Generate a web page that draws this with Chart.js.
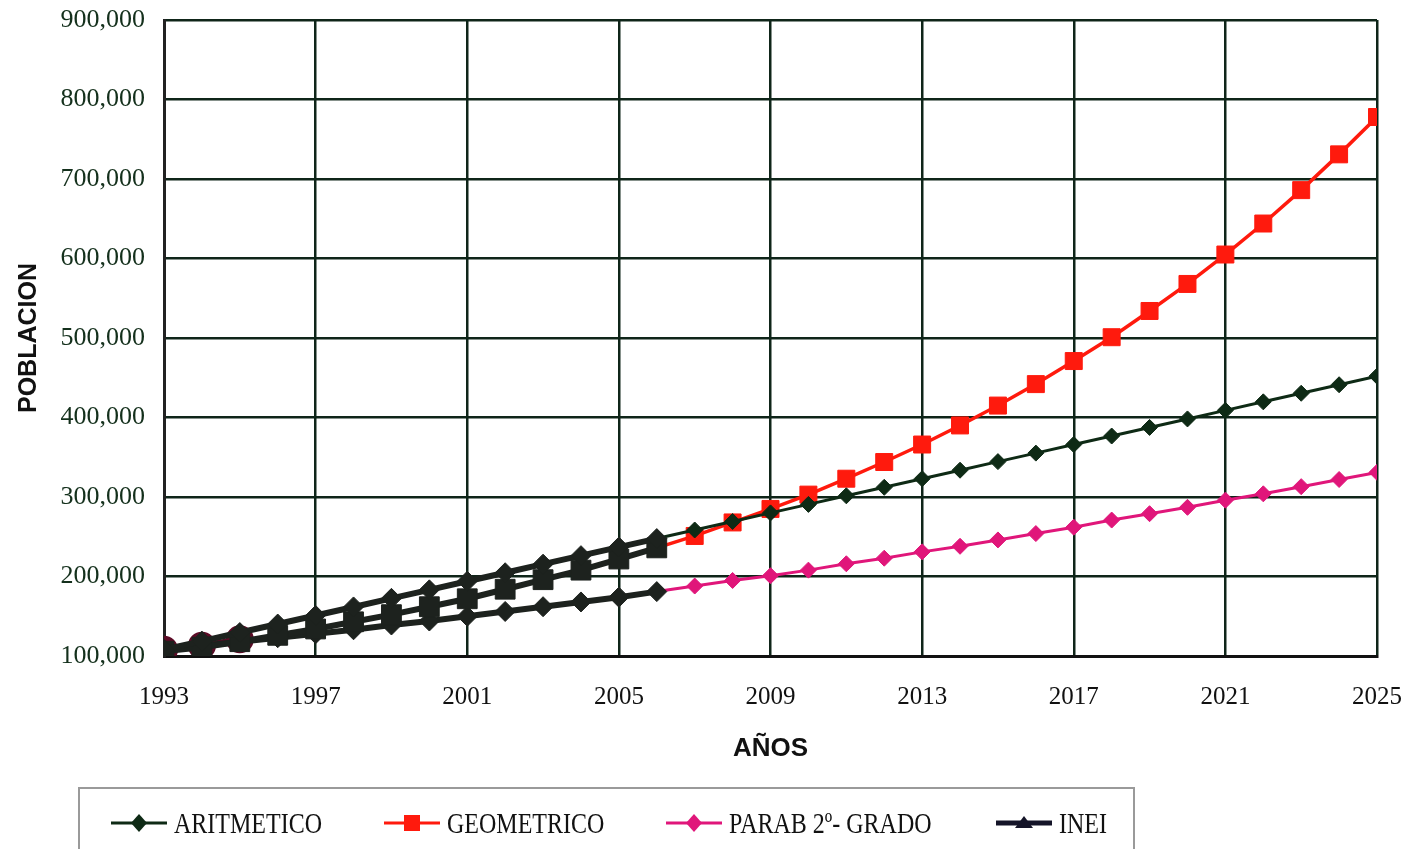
<!DOCTYPE html>
<html lang="es">
<head>
<meta charset="utf-8">
<title>Proyección de población</title>
<script src="https://cdn.jsdelivr.net/npm/chart.js@4.4.1/dist/chart.umd.min.js"></script>
<style>
    html, body { margin: 0; padding: 0; background: #fff; }
    #wrap { position: relative; width: 1409px; height: 849px; overflow: hidden; }
    #chart { position: absolute; left: 0; top: 0; }
    #legend {
        position: absolute; left: 78px; top: 787px; width: 1057px; height: 80px;
        border: 2px solid #9a9a9a; box-sizing: border-box;
    }
    .item { position: absolute; top: 17px; height: 34px; display: flex; align-items: center; }
    .item svg { display: block; }
    .item span {
        display: inline-block; margin-left: 6px;
        font-family: "Liberation Serif", "Times New Roman", serif; font-size: 24px; color: #111;
        transform: scaleY(1.25); transform-origin: left center;
    }
</style>
</head>
<body>
<div id="wrap">
    <canvas id="chart" width="1409" height="849"></canvas>
    <div id="legend"></div>
</div>
<script>
const years = [1993, 1994, 1995, 1996, 1997, 1998, 1999, 2000, 2001, 2002, 2003,
    2004, 2005, 2006, 2007, 2008, 2009, 2010, 2011, 2012, 2013, 2014, 2015, 2016,
    2017, 2018, 2019, 2020, 2021, 2022, 2023, 2024, 2025];

const aritmetico = [108000, 118700, 129500, 140200, 151000, 161700, 172500, 183200,
    194000, 204700, 215500, 226200, 237000, 247700, 258500, 269200, 280000, 290700,
    301500, 312200, 323000, 333700, 344500, 355200, 366000, 376700, 387500, 398200,
    409000, 419700, 430500, 441200, 452000];

const geometrico = [106000, 111000, 118000, 126000, 134000, 143000, 152000, 162000,
    172000, 184000, 196000, 208000, 222000, 236000, 251000, 268000, 285000, 303000,
    323000, 344000, 366000, 390000, 415000, 442000, 471000, 501000, 534000, 568000,
    605000, 644000, 686000, 731000, 778000];

const parabola = [108000, 113000, 118000, 123000, 128000, 133000, 139000, 144000,
    150000, 156000, 162000, 168000, 174000, 181000, 188000, 195000, 201000, 208000,
    216000, 223000, 231000, 238000, 246000, 254000, 262000, 271000, 279000, 287000,
    296000, 304000, 313000, 322000, 331000];

const ineiYears = [1993, 1994, 1995];
const inei = [108000, 113000, 121000];

const yTicks = [100000, 200000, 300000, 400000, 500000, 600000, 700000, 800000, 900000];

const seriesNames = ["ARITMETICO", "GEOMETRICO", "PARAB 2º- GRADO", "INEI"];

const DARK = "#1d221e";
const GRID = "#0f2519";
const LAST_DARK = 13; // through 2006 the projections run together as one dark band

const pairs = (xs, ys) => xs.map((x, i) => ({ x: x, y: ys[i] }));

const projection = (label, values, color, style, radius, width) => ({
    label: label,
    data: pairs(years, values),
    borderColor: color,
    borderWidth: width,
    pointStyle: style,
    pointRadius: (ctx) => (ctx.dataIndex <= LAST_DARK ? radius + 2 : radius),
    pointBackgroundColor: (ctx) => (ctx.dataIndex <= LAST_DARK ? DARK : color),
    pointBorderColor: (ctx) => (ctx.dataIndex <= LAST_DARK ? DARK : color),
    pointBorderWidth: 1,
    segment: {
        borderColor: (ctx) => (ctx.p1DataIndex <= LAST_DARK ? DARK : undefined),
        borderWidth: (ctx) => (ctx.p1DataIndex <= LAST_DARK ? 6 : undefined),
    },
    tension: 0,
});

const datasets = [
    projection(seriesNames[0], aritmetico, "#0e2a15", "rectRot", 8, 3),
    projection(seriesNames[1], geometrico, "#ff1a0d", "rect", 12, 3.5),
    projection(seriesNames[2], parabola, "#e0167a", "rectRot", 8, 3),
    {
        label: seriesNames[3],
        data: pairs(ineiYears, inei),
        borderColor: "#5c0b26",
        backgroundColor: "#5c0b26",
        borderWidth: 6,
        pointStyle: "circle",
        pointRadius: 11,
        pointBackgroundColor: "#5c0b26",
        pointBorderColor: "#5c0b26",
        tension: 0,
    },
];

new Chart(document.getElementById("chart"), {
    type: "line",
    data: { datasets: datasets },
    options: {
        responsive: false,
        animation: false,
        layout: { padding: { left: 0, top: 20, right: 32, bottom: 83 } },
        plugins: {
            legend: { display: false },
            tooltip: { enabled: false },
        },
        scales: {
            x: {
                type: "linear",
                min: years[0],
                max: years[years.length - 1],
                afterFit: (scale) => {
                    scale.height = 110;
                    scale.paddingLeft = 0;
                    scale.paddingRight = 0;
                },
                ticks: {
                    stepSize: 4,
                    padding: 26,
                    color: "#111",
                    font: { family: "'Liberation Serif', 'Times New Roman', serif", size: 25 },
                    callback: (value) => String(value),
                },
                grid: { color: GRID, lineWidth: 2.5, drawTicks: false },
                border: { color: "#111", width: 3 },
                title: {
                    display: true,
                    text: "AÑOS",
                    color: "#111",
                    font: { family: "'Liberation Sans', Arial, sans-serif", size: 26, weight: "bold" },
                    padding: { top: 0, bottom: 2 },
                },
            },
            y: {
                min: yTicks[0],
                max: yTicks[yTicks.length - 1],
                afterFit: (scale) => {
                    scale.width = 164;
                    scale.paddingTop = 0;
                    scale.paddingBottom = 0;
                },
                afterBuildTicks: (scale) => { scale.ticks = yTicks.map((v) => ({ value: v })); },
                ticks: {
                    padding: 19,
                    color: "#14301c",
                    font: { family: "'Liberation Serif', 'Times New Roman', serif", size: 26 },
                    callback: (value) => value.toLocaleString("en-US"),
                },
                grid: { color: GRID, lineWidth: 2.5, drawTicks: false },
                border: { color: "#222", width: 3 },
                title: {
                    display: true,
                    text: "POBLACION",
                    color: "#111",
                    font: { family: "'Liberation Sans', Arial, sans-serif", size: 25, weight: "bold" },
                    padding: { top: 14, bottom: 0 },
                },
            },
        },
    },
});

// legend row under the chart: line sample with its marker, then the name
const legendItems = [
    { left: 30, color: "#0e2a15", marker: "diamond" },
    { left: 303, color: "#ff1a0d", marker: "square" },
    { left: 585, color: "#e0167a", marker: "diamond" },
    { left: 915, color: "#141428", marker: "triangle" },
];

const markerSvg = (kind, color) => {
    if (kind === "square") {
        return `<rect x="21" y="8" width="16" height="16" fill="${color}"/>`;
    }
    if (kind === "triangle") {
        return `<polygon points="29,9 38,21 20,21" fill="${color}"/>`;
    }
    return `<polygon points="29,7 37,16 29,25 21,16" fill="${color}"/>`;
};

const legend = document.getElementById("legend");
legendItems.forEach((item, i) => {
    const el = document.createElement("div");
    el.className = "item";
    el.style.left = item.left + "px";
    const width = item.marker === "triangle" ? 5 : 3;
    el.innerHTML =
        `<svg width="58" height="32" viewBox="0 0 58 32">` +
        `<line x1="1" y1="16" x2="57" y2="16" stroke="${item.color}" stroke-width="${width}"/>` +
        markerSvg(item.marker, item.color) +
        `</svg><span>${seriesNames[i]}</span>`;
    legend.appendChild(el);
});
</script>
</body>
</html>
